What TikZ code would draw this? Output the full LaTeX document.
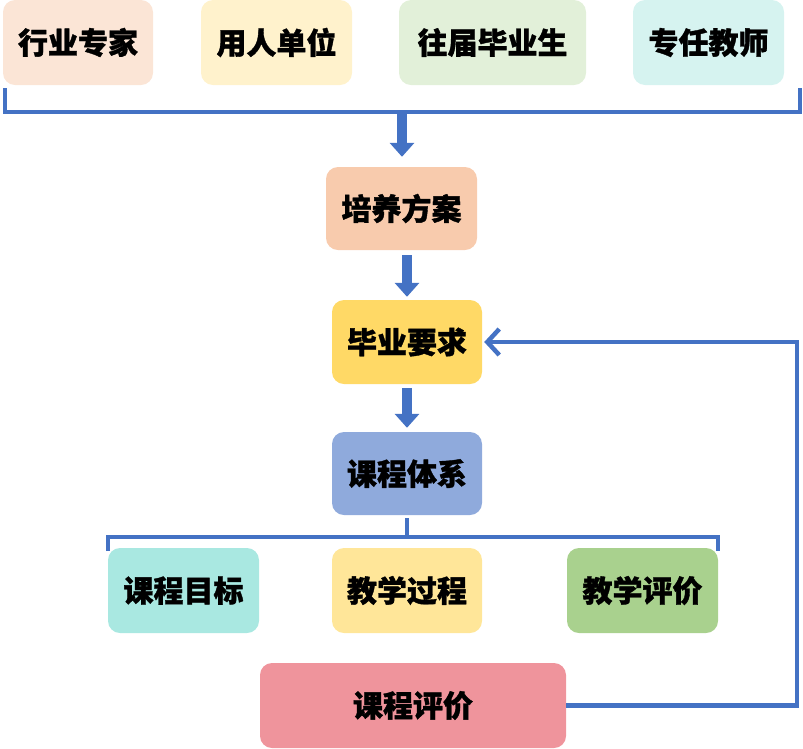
\documentclass[tikz,border=0pt]{standalone}
\usepackage{fontspec}
\newfontfamily\cjk{Noto Sans CJK SC}[BoldFeatures={FakeBold=1.2}]
\usetikzlibrary{arrows.meta,calc}
\definecolor{lineblue}{HTML}{4472C4}
\definecolor{cA}{HTML}{FBE5D6}
\definecolor{cB}{HTML}{FFF2CC}
\definecolor{cC}{HTML}{E2F0D9}
\definecolor{cD}{HTML}{D6F3F0}
\definecolor{cE}{HTML}{F8CBAD}
\definecolor{cF}{HTML}{FFD966}
\definecolor{cG}{HTML}{8FAADC}
\definecolor{cH}{HTML}{A9E8E1}
\definecolor{cI}{HTML}{FFE699}
\definecolor{cJ}{HTML}{A9D18E}
\definecolor{cK}{HTML}{EF949C}
\begin{document}
\begin{tikzpicture}[x=1pt,y=-1pt,
  box/.style={rounded corners=12pt, inner sep=0pt, minimum height=85pt,
    font=\cjk\bfseries\fontsize{30}{30}\selectfont, text=black},
  blockarrow/.style={line width=10pt, draw=lineblue, -{Triangle[width=24pt,length=14pt,fill=lineblue]}},
  bracket/.style={lineblue, line width=3.5pt},
  feedback/.style={lineblue, line width=4.5pt, -{Straight Barb[length=12pt,width=26pt]}}]
\useasboundingbox (0,0) rectangle (803,748);
% top row
\node[box, fill=cA, minimum width=150pt] (hyzj) at (78,42.5) {行业专家};
\node[box, fill=cB, minimum width=151pt] (yrdw) at (276.5,42.5) {用人单位};
\node[box, fill=cC, minimum width=187pt] (wjbys) at (492.5,42.5) {往届毕业生};
\node[box, fill=cD, minimum width=151pt] (zrjs) at (708.5,42.5) {专任教师};
% middle column
\node[box, fill=cE, minimum width=151pt, minimum height=83pt] (pyfa) at (401.5,208.5) {培养方案};
\node[box, fill=cF, minimum width=150pt, minimum height=84pt] (byyq) at (407,342) {毕业要求};
\node[box, fill=cG, minimum width=150pt, minimum height=83pt] (kctx) at (407,473.5) {课程体系};
% lower row
\node[box, fill=cH, minimum width=151pt] (kcmb) at (183.5,590.5) {课程目标};
\node[box, fill=cI, minimum width=150pt] (jxgc) at (407,590.5) {教学过程};
\node[box, fill=cJ, minimum width=151pt] (jxpj) at (642.5,590.5) {教学评价};
\node[box, fill=cK, minimum width=306pt] (kcpj) at (413,705.5) {课程评价};
% top bracket
\coordinate (b1m) at (402,112);
\draw[bracket] (5,88) -- (5,112) -- (800,112) -- (800,88);
\draw[blockarrow, shorten >=10pt] (b1m) -- (b1m |- pyfa.north);
% block arrows
\draw[blockarrow, shorten <=5pt, shorten >=3pt] (pyfa.south -| byyq.north) -- (byyq.north);
\draw[blockarrow, shorten <=4pt, shorten >=4pt] (byyq.south) -- (kctx.north);
% lower bracket
\coordinate (b2m) at (kctx.south |- 0,537);
\draw[bracket] ($(kctx.south)+(0,3)$) -- (b2m);
\draw[bracket] (108,551) -- (108,537) -- (718,537) -- (718,551);
% feedback loop
\coordinate (fbc) at (797,705.5);
\draw[feedback, shorten >=2pt] (kcpj.east) -- (fbc) |- (byyq.east);
\end{tikzpicture}
\end{document}
